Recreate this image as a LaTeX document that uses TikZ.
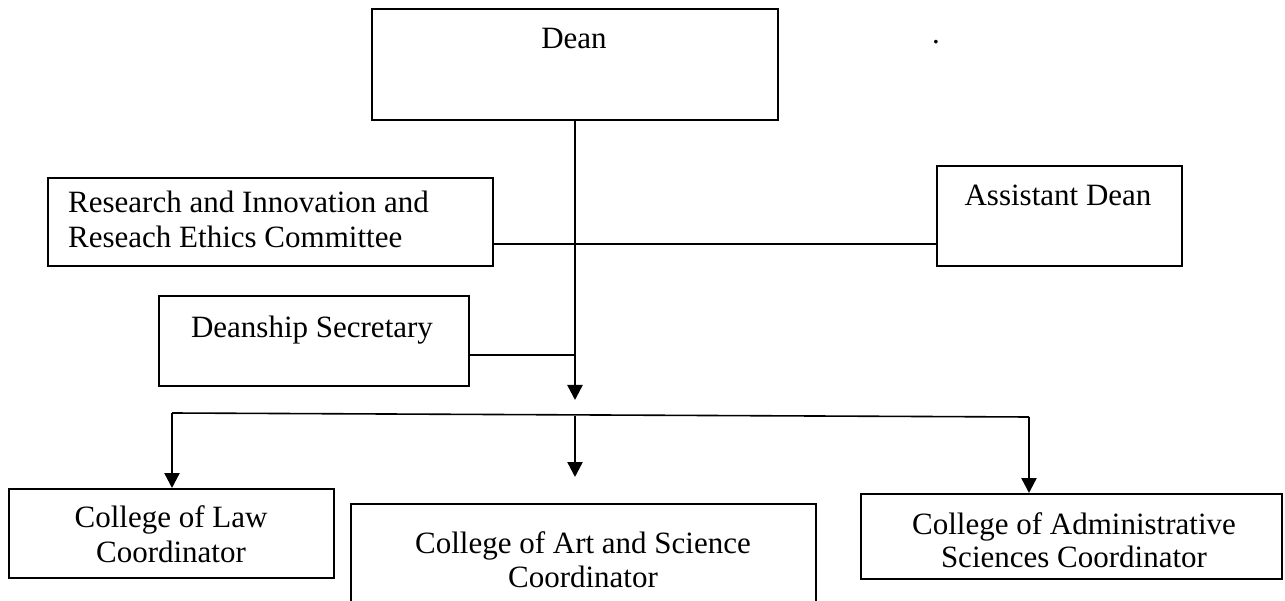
\documentclass[tikz,border=0pt]{standalone}
\usepackage{fontspec}
\setmainfont{Liberation Serif}
\usetikzlibrary{arrows.meta}
\begin{document}
\begin{tikzpicture}[x=1pt,y=-1pt,
  box/.style={draw=black,line width=1.6pt,rectangle,inner sep=0pt,anchor=north west},
  lbl/.style={inner sep=0pt,font=\fontsize{31}{35}\selectfont},
  conn/.style={draw=black,line width=1.6pt},
  arr/.style={draw=black,line width=2.4pt,-{Triangle[width=15pt,length=15pt]}}]
\useasboundingbox (0,0) rectangle (1285,601);
% boxes
\node[box,minimum width=406pt,minimum height=111pt] (dean) at (371,8) {};
\node[box,minimum width=445pt,minimum height=88pt] (research) at (47,177) {};
\node[box,minimum width=245pt,minimum height=100pt] (asst) at (936,165) {};
\node[box,minimum width=310pt,minimum height=90pt] (sec) at (158,295) {};
\node[box,minimum width=325pt,minimum height=89pt] (law) at (8,488) {};
\node[box,minimum width=465pt,minimum height=115pt] (art) at (350,503) {};
\node[box,minimum width=421pt,minimum height=85pt] (admin) at (860,493) {};
% labels
\node[lbl,anchor=base] (deanT) at (574,49) {Dean};
\node[lbl,anchor=base] (dot) at (936,44) {.};
\node[lbl,anchor=base west] (resT1) at (68,213) {Research and Innovation and};
\node[lbl,anchor=base west] (resT2) at (68,248) {Reseach Ethics Committee};
\node[lbl,anchor=base] (asstT) at (1058,206) {Assistant Dean};
\node[lbl,anchor=base] (secT) at (312,338) {Deanship Secretary};
\node[lbl,anchor=base] (lawT1) at (171,527) {College of Law};
\node[lbl,anchor=base] (lawT2) at (171,562) {Coordinator};
\node[lbl,anchor=base] (artT1) at (583,553) {College of Art and Science};
\node[lbl,anchor=base] (artT2) at (583,587) {Coordinator};
\node[lbl,anchor=base] (adminT1) at (1074,534) {College of Administrative};
\node[lbl,anchor=base] (adminT2) at (1074,567) {Sciences Coordinator};
% junction coordinates
\coordinate (tip1) at (575,400);
\coordinate (rl) at (575,244);
\coordinate (sj) at (575,355);
\coordinate (hl) at (172,413);
\coordinate (hm) at (575,416);
\coordinate (hr) at (1029,417);
\coordinate (mtip) at (575,477);
% connectors
\draw[conn] (research.east |- rl) -- (asst.west |- rl);
\draw[conn] (sec.east |- sj) -- (sj);
\draw[arr] (dean.south -| tip1) -- (tip1);
\draw[conn] (hl) -- (hr);
\draw[arr] (hl) -- (hl |- law.north);
\draw[arr] (hm) -- (mtip);
\draw[arr] (hr) -- (hr |- admin.north);
\end{tikzpicture}
\end{document}
